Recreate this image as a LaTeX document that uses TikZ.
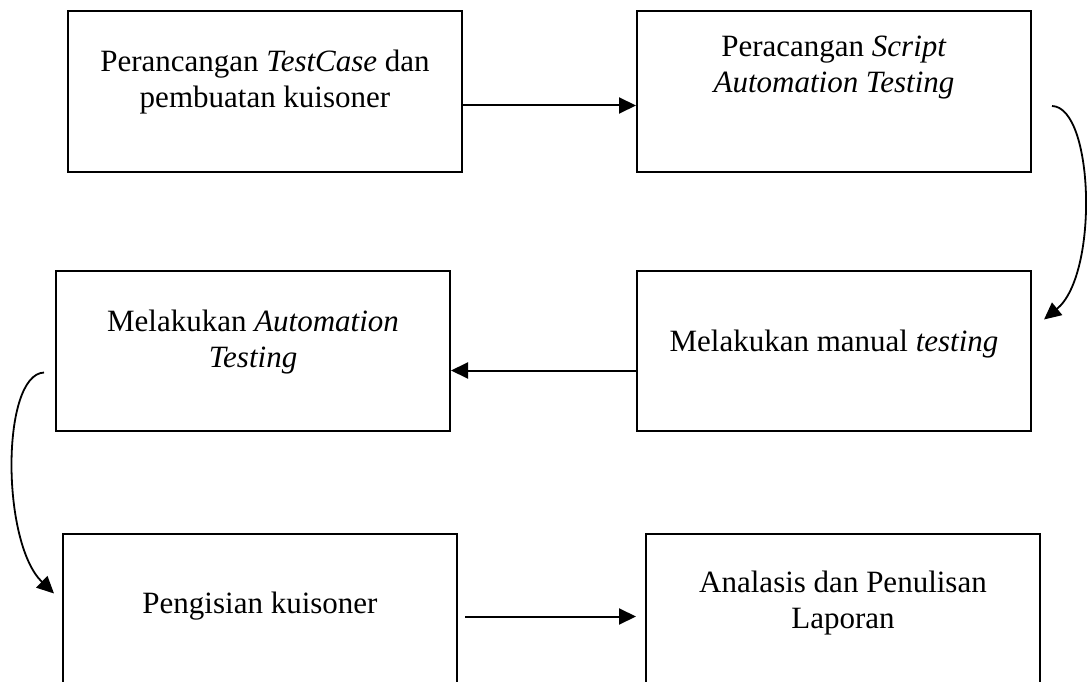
\documentclass[tikz,border=0pt]{standalone}
\usepackage{fontspec}
\setmainfont{Liberation Serif}
\usepackage{tikz}
\usetikzlibrary{positioning,arrows.meta}
\tikzset{
  stepbox/.style={draw,line width=2pt,minimum width=394pt,minimum height=160pt,inner sep=0pt},
  steptext/.style={inner sep=0pt,align=center,font=\fontsize{31}{36}\selectfont},
  >={Triangle[length=17pt,width=16pt]},
}

\begin{document}
\begin{tikzpicture}[
  x=1pt,y=-1pt,
  flow/.style={->,line width=2pt},
  bendarrow/.style={->,line width=1.8pt}
]
\clip (0,0) rectangle (1087,682);

\node[stepbox] (s1) at (265,91.5) {};
\node[stepbox,right=173pt of s1] (s2) {};
\node[stepbox,below=97pt of s2] (s4) {};
\node[stepbox,left=185pt of s4] (s3) {};
\node[stepbox,minimum height=190pt,below=101pt of s4,xshift=9pt] (s6) {};
\node[stepbox,minimum height=190pt,left=187pt of s6] (s5) {};

\node[steptext,below=39pt of s1.north] (t1) {Perancangan \textit{TestCase} dan\\pembuatan kuisoner};
\node[steptext,below=25pt of s2.north] (t2) {Peracangan \textit{Script}\\\textit{Automation Testing}};
\node[steptext,below=40pt of s3.north] (t3) {Melakukan \textit{Automation}\\\textit{Testing}};
\node[steptext,below=60pt of s4.north] (t4) {Melakukan manual \textit{testing}};
\node[steptext,below=59pt of s5.north] (t5) {Pengisian kuisoner};
\node[steptext,below=38pt of s6.north] (t6) {Analasis dan Penulisan\\Laporan};

\draw[flow] ([yshift=-14pt]s1.east) -- ([yshift=-14pt]s2.west);
\draw[bendarrow] ([xshift=20pt,yshift=-14.5pt]s2.east) .. controls +(42,1) and +(55,-45) .. ([xshift=12pt,yshift=31pt]s4.east);
\draw[flow] ([yshift=-20pt]s4.west) -- ([yshift=-20pt]s3.east);
\draw[bendarrow] ([xshift=-11pt,yshift=-22pt]s3.west) .. controls +(-43,2) and +(-53,-51) .. ([xshift=-8pt,yshift=35pt]s5.west);
\draw[flow] ([xshift=7pt,yshift=12pt]s5.east) -- ([xshift=-9pt,yshift=12pt]s6.west);

\end{tikzpicture}
\end{document}
